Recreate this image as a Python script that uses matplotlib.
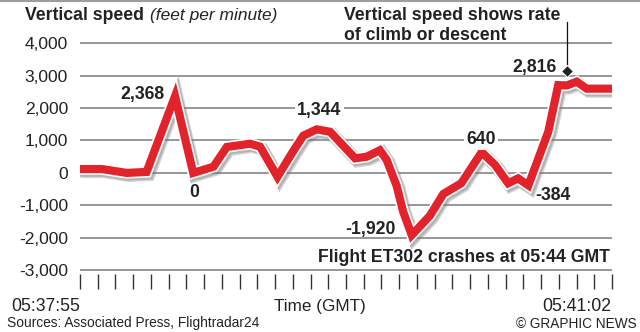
import matplotlib
matplotlib.use('Agg')
import matplotlib.pyplot as plt
import matplotlib.patheffects as pe
from matplotlib.ticker import FixedLocator, FuncFormatter, NullFormatter
import numpy as np

plt.rcParams['font.family'] = ['Liberation Sans', 'DejaVu Sans']
plt.rcParams['axes.unicode_minus'] = False

# ---- data (seconds after 05:37:55, vertical speed in ft/min) ----
seconds = [0, 7.6, 16.4, 23.4, 33.4, 39.8, 46.9, 51.6, 59.8, 63.3, 69.4, 75.0,
           78.5, 83.2, 87.9, 96.7, 100.8, 105.4, 107.8, 111.3, 113.6, 116.6,
           123.0, 127.7, 134.0, 141.2, 145.9, 150.5, 154.0, 157.6, 164.6,
           168.1, 171.1, 174.6, 178.1, 187]
speed = [120, 120, 0, 30, 2368, 0, 190, 800, 900, 810, -120, 680,
         1150, 1344, 1270, 450, 500, 700, 400, -400, -1200, -1920,
         -1320, -650, -320, 640, 245, -320, -170, -384, 1270,
         2710, 2700, 2816, 2600, 2600]
y_ticks = [-3000, -2000, -1000, 0, 1000, 2000, 3000, 4000]
n_time_ticks = 31
time_start_label = "05:37:55"
time_end_label = "05:41:02"
duration = 187

# labelled points: (text, x in seconds, y value)
point_labels = [("2,368", 33.4, 2368), ("0", 39.8, 0), ("1,344", 83.2, 1344),
                ("-1,920", 116.6, -1920), ("640", 141.2, 640),
                ("-384", 157.6, -384), ("2,816", 174.6, 2816)]

W, H = 640, 332
fig = plt.figure(figsize=(W / 100, H / 100), dpi=100)

def fx(px):
    return px / W

def fy(py):
    return 1 - py / H

ax = fig.add_axes([fx(80), fy(273.8), fx(612) - fx(80), fy(33.6) - fy(273.8)])
ax.set_xlim(0, duration)
ax.set_ylim(-3115, 4300)
for s in ax.spines.values():
    s.set_visible(False)

ax.yaxis.set_major_locator(FixedLocator(y_ticks))
ax.yaxis.set_major_formatter(FuncFormatter(lambda v, p: f"{int(v):,}"))
ax.tick_params(axis='y', length=0, pad=8.6, labelsize=12.5, labelcolor='#222222')
ax.grid(axis='y', color='#7a7a7a', linewidth=1.1)
ax.set_axisbelow(True)

ax.xaxis.set_major_locator(FixedLocator(np.linspace(0, duration, n_time_ticks)))
ax.xaxis.set_major_formatter(NullFormatter())
ax.tick_params(axis='x', direction='out', length=10.5, width=1.0, color='#333333')

line, = ax.plot(seconds, speed, color='#e3232b', linewidth=5.9,
                solid_joinstyle='miter', solid_capstyle='round', zorder=5)
line.set_path_effects([
    pe.SimpleLineShadow(offset=(1.6, -1.8), shadow_color='#888888', alpha=0.35,
                        linewidth=9.6),
    pe.SimpleLineShadow(offset=(1.2, -1.3), shadow_color='#666666', alpha=0.3,
                        linewidth=8.6),
    pe.Stroke(linewidth=8.3, foreground='white'),
    pe.Normal(),
])

# point labels
offsets = {"2,368": (142.5, 99), "0": (194, 197), "1,344": (319.5, 115.5),
           "-1,920": (370, 234), "640": (481, 144), "-384": (552.5, 199.5),
           "2,816": (534.5, 72)}
for txt, xv, yv in point_labels:
    px, py = offsets[txt]
    kw = {}
    if txt in ("1,344", "640"):
        kw['bbox'] = dict(facecolor='white', edgecolor='none', pad=1.5)
    fig.text(fx(px), fy(py), txt, ha='center', va='baseline', fontsize=12.7,
             fontweight='bold', color='#222222', zorder=10, **kw)

# titles and notes
fig.text(fx(25), fy(20), "Vertical speed", fontsize=12.7, fontweight='bold',
         color='#222222', va='baseline')
fig.text(fx(150), fy(20), "(feet per minute)", fontsize=12.5, style='italic',
         color='#222222', va='baseline')
fig.text(fx(344), fy(20), "Vertical speed shows rate", fontsize=12.7,
         fontweight='bold', color='#222222', va='baseline')
fig.text(fx(344), fy(39.5), "of climb or descent", fontsize=12.7,
         fontweight='bold', color='#222222', va='baseline')
fig.add_artist(plt.Line2D([fx(567), fx(567)], [fy(22), fy(70)], color='#111111',
                          linewidth=0.9, transform=fig.transFigure))
fig.add_artist(plt.Line2D([fx(567)], [fy(71)], marker='D', markersize=6.2,
                          color='#222222', markeredgecolor='white',
                          markeredgewidth=0.8, transform=fig.transFigure))
fig.text(fx(609.5), fy(262), "Flight ET302 crashes at 05:44 GMT", fontsize=12.7,
         fontweight='bold', color='#222222', ha='right', va='baseline')
fig.text(fx(80), fy(311), time_start_label, fontsize=12.7, color='#222222',
         ha='right', va='baseline')
fig.text(fx(611.5), fy(311), time_end_label, fontsize=12.7, color='#222222',
         ha='right', va='baseline')
fig.text(fx(319.5), fy(311), "Time (GMT)", fontsize=12.3, color='#222222',
         ha='center', va='baseline')
fig.text(fx(7), fy(327.5), "Sources: Associated Press, Flightradar24",
         fontsize=9.9, color='#222222', va='baseline')
fig.text(fx(636.5), fy(327.5), "\u00a9 GRAPHIC NEWS", fontsize=9.8,
         color='#222222', ha='right', va='baseline')
fig.add_artist(plt.Line2D([0, 1], [fy(0.8), fy(0.8)], color='#9a9ea4',
                          linewidth=1.5, transform=fig.transFigure))

fig.savefig('out.png', dpi=100, facecolor='white')
